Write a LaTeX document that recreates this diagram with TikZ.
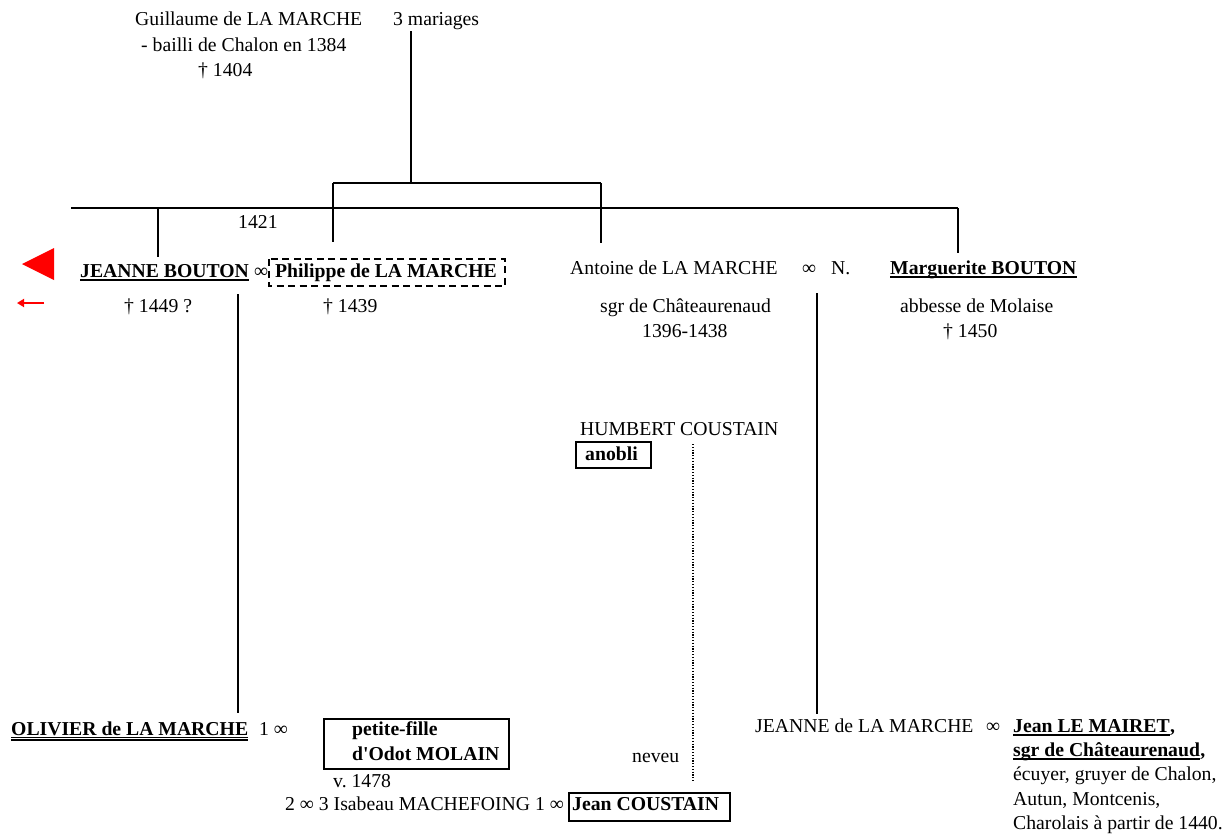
\documentclass[tikz,border=0pt]{standalone}
\usepackage{fontspec}
\setmainfont{Liberation Serif}
\usetikzlibrary{arrows.meta}
\frenchspacing
\begin{document}
\begin{tikzpicture}[x=1pt,y=-1pt,
  every node/.style={font=\fontsize{19.7}{24}\selectfont},
  txt/.style={inner sep=0pt,anchor=base west},
  bld/.style={txt,font=\fontsize{19.7}{24}\selectfont\bfseries},
  link/.style={line width=2pt,black},
  boxline/.style={line width=2.4pt,black},
  uline/.style={line width=1.6pt,black},
  dashbox/.style={line width=2.4pt,black,dash pattern=on 7pt off 4.5pt},
  dotline/.style={line width=2pt,black,dash pattern=on 1.2pt off 1.6pt}]
\useasboundingbox (0,0) rectangle (1227,838);

% ---- top ----
\node[txt] (guil) at (135,25) {Guillaume de LA MARCHE};
\node[txt] (bail) at (141,51) {- bailli de Chalon en 1384};
\node[txt] (gd) at (198,76) {† 1404};
\node[txt] (mar) at (393,25) {3 mariages};

\coordinate (gtop) at (411,31);
\coordinate (gbot) at (411,183);
\coordinate (bl) at (333,183);
\coordinate (br) at (601,183);
\coordinate (phtop) at (333,242);
\coordinate (antop) at (601,243);
\draw[link] (gtop) -- (gbot);
\draw[link] (bl) -- (br);
\draw[link] (bl) -- (phtop);
\draw[link] (br) -- (antop);

\coordinate (hl) at (71,208);
\coordinate (hr) at (958,208);
\coordinate (jb) at (158,208);
\coordinate (jbtop) at (158,257);
\coordinate (mgtop) at (958,253);
\draw[link] (hl) -- (hr);
\draw[link] (jb) -- (jbtop);
\draw[link] (hr) -- (mgtop);

\node[txt] (y1421) at (238,228) {1421};

% ---- red markers ----
\fill[red] (22,264) -- (54,248) -- (54,280) -- cycle;
\coordinate (ra) at (44,303);
\coordinate (rb) at (17,303);
\draw[red,line width=2.8pt,-{Triangle[length=7pt,width=8pt]}] (ra) -- (rb);

% ---- second row ----
\node[bld] (jbou) at (80,277) {JEANNE BOUTON};
\draw[uline] ([yshift=-3pt]jbou.base west) -- ([yshift=-3pt]jbou.base east);
\node[txt] (inf1) at (254,277) {∞};
\node[bld] (phil) at (275,277) {Philippe de LA MARCHE};
\draw[dashbox] (269,259) rectangle (505,286);
\node[txt] (jbd) at (124,312) {† 1449 ?};
\node[txt] (phd) at (323,312) {† 1439};

\node[txt] (ant) at (570,274) {Antoine de LA MARCHE};
\node[txt] (inf2) at (802,274) {∞};
\node[txt] (nn) at (831,274) {N.};
\node[bld] (marg) at (890,274) {Marguerite BOUTON};
\draw[uline] ([yshift=-3pt]marg.base west) -- ([yshift=-3pt]marg.base east);
\node[txt] (ants) at (600,312) {sgr de Châteaurenaud};
\node[txt] (antd) at (642,337) {1396-1438};
\node[txt] (mga) at (900,312) {abbesse de Molaise};
\node[txt] (mgd) at (943,337) {† 1450};

% ---- descent lines ----
\coordinate (oltop) at (238,294);
\coordinate (olbot) at (238,713);
\draw[link] (oltop) -- (olbot);
\coordinate (jmtop) at (817,293);
\coordinate (jmbot) at (817,714);
\draw[link] (jmtop) -- (jmbot);

% ---- Humbert ----
\node[txt] (hum) at (580,435) {HUMBERT COUSTAIN};
\node[bld] (anob) at (585,460) {anobli};
\draw[boxline] (576,442) rectangle (651,468);
\coordinate (dtop) at (693,444);
\coordinate (dbot) at (693,782);
\draw[dotline] (dtop) -- (dbot);
\node[txt] (nev) at (632,762) {neveu};

% ---- bottom left ----
\node[bld] (oli) at (11,735) {OLIVIER de LA MARCHE};
\draw[line width=1.1pt] ([yshift=-2.5pt]oli.base west) -- ([yshift=-2.5pt]oli.base east);
\draw[line width=1.1pt] ([yshift=-5pt]oli.base west) -- ([yshift=-5pt]oli.base east);
\node[txt] (m1) at (259,735) {1 ∞};
\node[bld] (pf1) at (352,735) {petite-fille};
\node[bld] (pf2) at (352,760) {d\textquotesingle Odot MOLAIN};
\draw[boxline] (324,719) rectangle (509,769);
\node[txt] (v1478) at (333,787) {v. 1478};
\node[txt] (isab) at (285,810) {2 ∞ 3 Isabeau MACHEFOING 1 ∞};
\node[bld] (jc) at (572,810) {Jean COUSTAIN};
\draw[boxline] (569,793) rectangle (730,821);

% ---- bottom right ----
\node[txt] (jlm) at (755,732) {JEANNE de LA MARCHE};
\node[txt] (inf3) at (986,732) {∞};
\node[bld] (jlm1) at (1013,732) {Jean LE MAIRET};
\node[bld,anchor=base west,inner sep=0pt] (c1) at (jlm1.base east) {,};
\draw[uline] ([yshift=-3pt]jlm1.base west) -- ([yshift=-3pt]jlm1.base east);
\node[bld] (jlm2) at (1013,756) {sgr de Châteaurenaud};
\node[bld,anchor=base west,inner sep=0pt] (c2) at (jlm2.base east) {,};
\draw[uline] ([yshift=-3pt]jlm2.base west) -- ([yshift=-3pt]jlm2.base east);
\node[txt] (jlm3) at (1013,780) {écuyer, gruyer de Chalon,};
\node[txt] (jlm4) at (1013,805) {Autun, Montcenis,};
\node[txt] (jlm5) at (1013,829) {Charolais à partir de 1440.};
\end{tikzpicture}
\end{document}
